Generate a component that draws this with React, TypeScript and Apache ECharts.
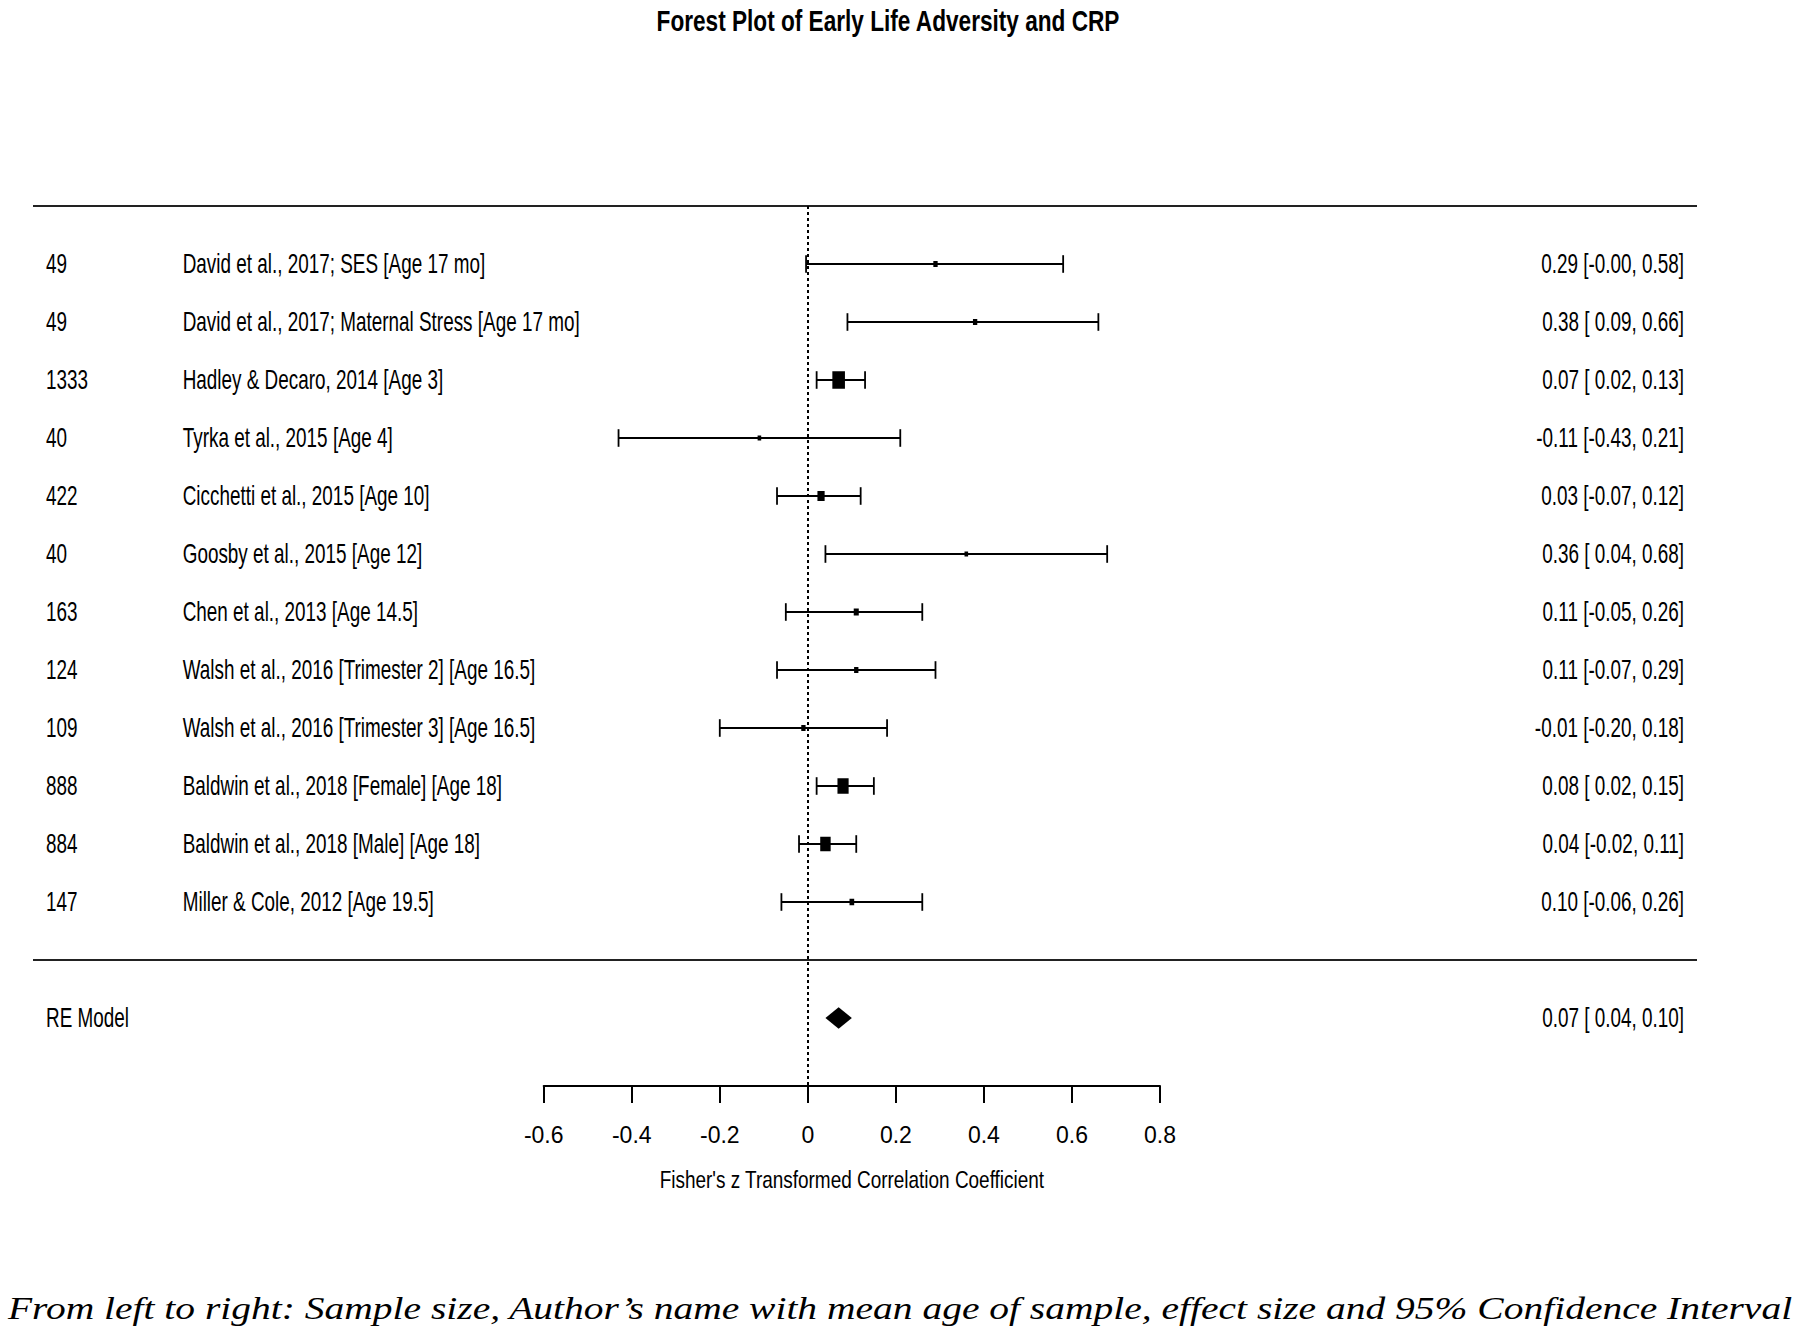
import React, { useEffect, useRef } from "react";
import * as echarts from "echarts";

// ---------- data ----------
const sampleSizes = [49, 49, 1333, 40, 422, 40, 163, 124, 109, 888, 884, 147];
const studyLabels = [
  "David et al., 2017; SES [Age 17 mo]",
  "David et al., 2017; Maternal Stress [Age 17 mo]",
  "Hadley & Decaro, 2014 [Age 3]",
  "Tyrka et al., 2015 [Age 4]",
  "Cicchetti et al., 2015 [Age 10]",
  "Goosby et al., 2015 [Age 12]",
  "Chen et al., 2013 [Age 14.5]",
  "Walsh et al., 2016 [Trimester 2] [Age 16.5]",
  "Walsh et al., 2016 [Trimester 3] [Age 16.5]",
  "Baldwin et al., 2018 [Female] [Age 18]",
  "Baldwin et al., 2018 [Male] [Age 18]",
  "Miller & Cole, 2012 [Age 19.5]",
];
const estimates = [0.29, 0.38, 0.07, -0.11, 0.03, 0.36, 0.11, 0.11, -0.01, 0.08, 0.04, 0.10];
const lowerCI = [-0.004, 0.09, 0.02, -0.43, -0.07, 0.04, -0.05, -0.07, -0.20, 0.02, -0.02, -0.06];
const upperCI = [0.58, 0.66, 0.13, 0.21, 0.12, 0.68, 0.26, 0.29, 0.18, 0.15, 0.11, 0.26];
// relative marker weights
const markerWeights = [1.2, 1.2, 3.5, 1.0, 2.0, 1.0, 1.4, 1.2, 1.2, 3.1, 2.9, 1.3];

const reLabel = "RE Model";
const reEstimate = 0.07;
const reLower = 0.04;
const reUpper = 0.10;

const xTickMin = -0.6;
const xTickMax = 0.8;
const xTickStep = 0.2;

const titleText = "Forest Plot of Early Life Adversity and CRP";
const xAxisTitle = "Fisher's z Transformed Correlation Coefficient";
const captionText =
  "From left to right: Sample size, Author\u2019s name with mean age of sample, effect size and 95% Confidence Interval";

// ---------- layout ----------
const W = 1800;
const H = 1341;
const gridLeft = 543.7;
const gridRight = 1160;
const gridTop = 206;
const gridBottom = 1086;
const rowPx = 58;
const yMin = -1;
const yMax = yMin + (gridBottom - gridTop) / rowPx;
const sansFont = "'Liberation Sans', Arial, Helvetica, sans-serif";
const textSize = 27;
const textScale = 0.7;
const colN = 46;
const colStudy = 182.7;
const colCI = 1684;
const lineLeft = 33;
const lineRight = 1697;

const fmt = (v: number) => v.toFixed(2);
const fmtPad = (v: number) => (v.toFixed(2).startsWith("-") ? v.toFixed(2) : " " + v.toFixed(2));
const ciText = (e: number, l: number, u: number) => `${fmt(e)} [${fmtPad(l)}, ${fmt(u)}]`;

function textEl(text: string, x: number, y: number, align: string) {
  return {
    type: "text",
    x,
    y,
    scaleX: textScale,
    style: {
      text,
      fontSize: textSize,
      fontFamily: sansFont,
      fill: "#000",
      align,
      verticalAlign: "middle",
    },
  };
}

export default function App() {
  const ref = useRef<HTMLDivElement>(null);
  useEffect(() => {
    document.body.style.margin = "0";
    if (!ref.current) return;
    const chart = echarts.init(ref.current, undefined, { renderer: "svg" });

    const studyData = estimates.map((e, i) => [e, i, lowerCI[i], upperCI[i], markerWeights[i]]);

    const option: any = {
      animation: false,
      backgroundColor: "#fff",
      grid: {
        left: gridLeft,
        top: gridTop,
        width: gridRight - gridLeft,
        height: gridBottom - gridTop,
        containLabel: false,
      },
      xAxis: {
        type: "value",
        min: xTickMin,
        max: xTickMax,
        interval: xTickStep,
        position: "bottom",
        splitLine: { show: false },
        axisLine: { show: true, onZero: false, lineStyle: { color: "#000", width: 2 } },
        axisTick: { show: true, length: 17, lineStyle: { color: "#000", width: 2 } },
        axisLabel: {
          color: "#000",
          fontSize: 23,
          fontFamily: "'Liberation Sans Narrow', 'Arial Narrow', 'Liberation Sans', Arial, sans-serif",
          margin: 37,
          formatter: (v: number) => (Math.abs(v) < 1e-9 ? "0" : String(Math.round(v * 10) / 10)),
        },
      },
      yAxis: {
        type: "value",
        min: yMin,
        max: yMax,
        inverse: true,
        show: false,
        splitLine: { show: false },
      },
      series: [
        {
          type: "custom",
          name: "studies",
          data: studyData,
          encode: { x: 0, y: 1 },
          renderItem: (params: any, api: any) => {
            const est = api.value(0);
            const row = api.value(1);
            const lo = api.value(2);
            const hi = api.value(3);
            const w = api.value(4);
            const pE = api.coord([est, row]);
            const pL = api.coord([lo, row]);
            const pH = api.coord([hi, row]);
            const y = pE[1];
            const th = 8.8;
            const bh = w * 5;
            const bw = bh * 0.72;
            const ls = { stroke: "#000", lineWidth: 1.8 };
            return {
              type: "group",
              children: [
                { type: "line", shape: { x1: pL[0], y1: y, x2: pH[0], y2: y }, style: ls },
                { type: "line", shape: { x1: pL[0], y1: y - th, x2: pL[0], y2: y + th }, style: ls },
                { type: "line", shape: { x1: pH[0], y1: y - th, x2: pH[0], y2: y + th }, style: ls },
                {
                  type: "rect",
                  shape: { x: pE[0] - bw / 2, y: y - bh / 2, width: bw, height: bh },
                  style: { fill: "#000" },
                },
              ],
            };
          },
          markLine: {
            silent: true,
            symbol: "none",
            label: { show: false },
            lineStyle: { color: "#000", width: 2, type: [3, 3] },
            data: [{ xAxis: 0 }],
          },
          z: 3,
        },
        {
          type: "custom",
          name: "studyText",
          data: estimates.map((e, i) => [e, i]),
          encode: { x: 0, y: 1 },
          renderItem: (params: any, api: any) => {
            const i = params.dataIndex;
            const y = api.coord([0, api.value(1)])[1];
            return {
              type: "group",
              children: [
                textEl(String(sampleSizes[i]), colN, y, "left"),
                textEl(studyLabels[i], colStudy, y, "left"),
                textEl(ciText(estimates[i], lowerCI[i], upperCI[i]), colCI, y, "right"),
              ],
            };
          },
        },
        {
          type: "custom",
          name: "summary",
          data: [[reEstimate, estimates.length + 1, reLower, reUpper]],
          encode: { x: 0, y: 1 },
          renderItem: (params: any, api: any) => {
            const row = api.value(1);
            const pE = api.coord([api.value(0), row]);
            const pL = api.coord([api.value(2), row]);
            const pH = api.coord([api.value(3), row]);
            const y = pE[1];
            const hh = 10.8;
            return {
              type: "group",
              children: [
                {
                  type: "polygon",
                  shape: {
                    points: [
                      [pL[0], y],
                      [pE[0], y - hh],
                      [pH[0], y],
                      [pE[0], y + hh],
                    ],
                  },
                  style: { fill: "#000" },
                },
                textEl(reLabel, colN, y, "left"),
                textEl(ciText(reEstimate, reLower, reUpper), colCI, y, "right"),
              ],
            };
          },
        },
      ],
      graphic: [
        {
          type: "line",
          shape: { x1: lineLeft, y1: gridTop, x2: lineRight, y2: gridTop },
          style: { stroke: "#222", lineWidth: 2 },
        },
        {
          type: "line",
          shape: {
            x1: lineLeft,
            y1: gridTop + rowPx * (estimates.length + 1),
            x2: lineRight,
            y2: gridTop + rowPx * (estimates.length + 1),
          },
          style: { stroke: "#222", lineWidth: 2 },
        },
        {
          type: "text",
          x: 888,
          y: 21,
          scaleX: 0.78,
          style: {
            text: titleText,
            fontSize: 29,
            fontWeight: "bold",
            fontFamily: sansFont,
            fill: "#000",
            align: "center",
            verticalAlign: "middle",
          },
        },
        {
          type: "text",
          x: (gridLeft + gridRight) / 2,
          y: 1180,
          scaleX: 0.79,
          style: {
            text: xAxisTitle,
            fontSize: 24,
            fontFamily: sansFont,
            fill: "#000",
            align: "center",
            verticalAlign: "middle",
          },
        },
        {
          type: "text",
          x: 900,
          y: 1309,
          scaleX: 1.274,
          style: {
            text: captionText,
            fontSize: 31,
            fontStyle: "italic",
            fontFamily: "'Liberation Serif', 'Times New Roman', serif",
            fill: "#000",
            align: "center",
            verticalAlign: "middle",
          },
        },
      ],
    };
    chart.setOption(option);
    return () => chart.dispose();
  }, []);
  return <div ref={ref} style={{ width: W, height: H }} />;
}
